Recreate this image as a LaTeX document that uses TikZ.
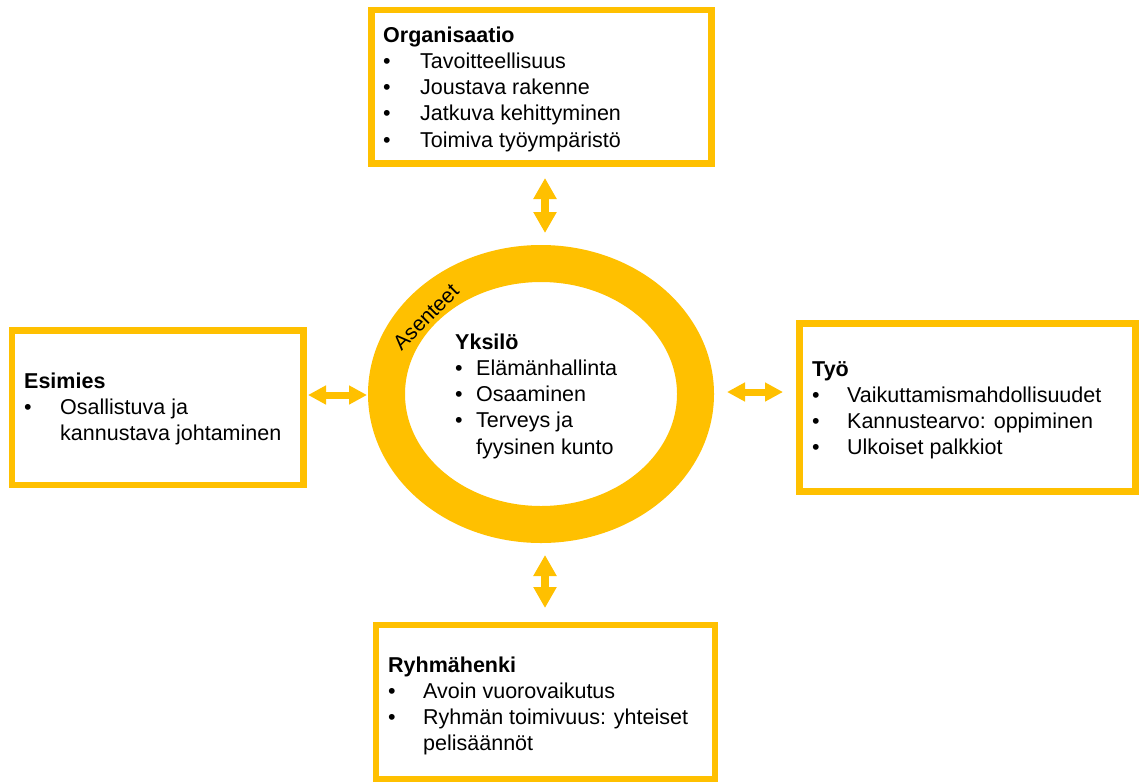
\documentclass[tikz,border=0pt]{standalone}
\usepackage{fontspec}
\setmainfont{Liberation Sans}
\usetikzlibrary{shapes.geometric,arrows.meta}
\definecolor{gold}{HTML}{FFC000}
\begin{document}
\begin{tikzpicture}[x=1pt,y=-1pt,
  box/.style={draw=gold,line width=6.5pt,fill=white,inner sep=0pt,rectangle},
  txt/.style={inner sep=0pt,anchor=base west,font=\fontsize{21.5}{26.3}\selectfont},
  ring/.style={ellipse,draw=gold,line width=37pt,inner sep=0pt},
  vdbl/.style={gold,line width=8pt,{Triangle[width=22pt,length=21pt]}-{Triangle[width=22pt,length=21pt]}},
  hdbl/.style={gold,line width=7pt,{Triangle[width=18pt,length=18pt]}-{Triangle[width=18pt,length=18pt]}}]
\useasboundingbox (0,0) rectangle (1139,782);
\fill[white] (0,0) rectangle (1139,782);

% boxes
\node[box,minimum width=340pt,minimum height=153.5pt] (org) at (541.5,86.75) {};
\node[box,minimum width=291.5pt,minimum height=154.5pt] (esi) at (157.75,407.75) {};
\node[box,minimum width=336pt,minimum height=168pt] (tyo) at (967.5,407.5) {};
\node[box,minimum width=339pt,minimum height=154pt] (ryh) at (545.5,702) {};

% ring
\node[ring,minimum width=309pt,minimum height=261pt] (rng) at (541,394) {};

% texts
\node[txt] (orgt) at (383,42) {\begin{tabular}[t]{@{}p{37pt}@{}l@{}}
\multicolumn{2}{@{}l@{}}{\textbf{Organisaatio}}\\
\textbullet & Tavoitteellisuus\\
\textbullet & Joustava rakenne\\
\textbullet & Jatkuva kehittyminen\\
\textbullet & Toimiva työympäristö
\end{tabular}};

\node[txt] (esit) at (24,388) {\begin{tabular}[t]{@{}p{36pt}@{}l@{}}
\multicolumn{2}{@{}l@{}}{\textbf{Esimies}}\\
\textbullet & Osallistuva ja\\
 & kannustava johtaminen
\end{tabular}};

\node[txt] (tyot) at (812,376) {\begin{tabular}[t]{@{}p{35pt}@{}l@{}}
\multicolumn{2}{@{}l@{}}{\textbf{Työ}}\\
\textbullet & Vaikuttamismahdollisuudet\\
\textbullet & Kannustearvo: oppiminen\\
\textbullet & Ulkoiset palkkiot
\end{tabular}};

\node[txt] (ryht) at (388,672) {\begin{tabular}[t]{@{}p{35pt}@{}l@{}}
\multicolumn{2}{@{}l@{}}{\textbf{Ryhmähenki}}\\
\textbullet & Avoin vuorovaikutus\\
\textbullet & Ryhmän toimivuus: yhteiset\\
 & pelisäännöt
\end{tabular}};

\node[txt] (yks) at (455,349) {\begin{tabular}[t]{@{}p{21pt}@{}l@{}}
\multicolumn{2}{@{}l@{}}{\textbf{Yksilö}}\\
\textbullet & Elämänhallinta\\
\textbullet & Osaaminen\\
\textbullet & Terveys ja\\
 & fyysinen kunto
\end{tabular}};

\node[inner sep=0pt,anchor=base,rotate=45,font=\fontsize{21}{25}\selectfont] (ase) at (431,322) {Asenteet};

% arrows
\coordinate (t1) at (545,178);
\coordinate (t2) at (545,233);
\coordinate (b1) at (545,555);
\coordinate (b2) at (545,608);
\coordinate (l1) at (308,395);
\coordinate (l2) at (367,395);
\coordinate (r1) at (727,392);
\coordinate (r2) at (783,392);
\draw[vdbl] (t1) -- (t2);
\draw[vdbl] (b1) -- (b2);
\draw[hdbl] (l1) -- (l2);
\draw[hdbl] (r1) -- (r2);
\end{tikzpicture}
\end{document}
